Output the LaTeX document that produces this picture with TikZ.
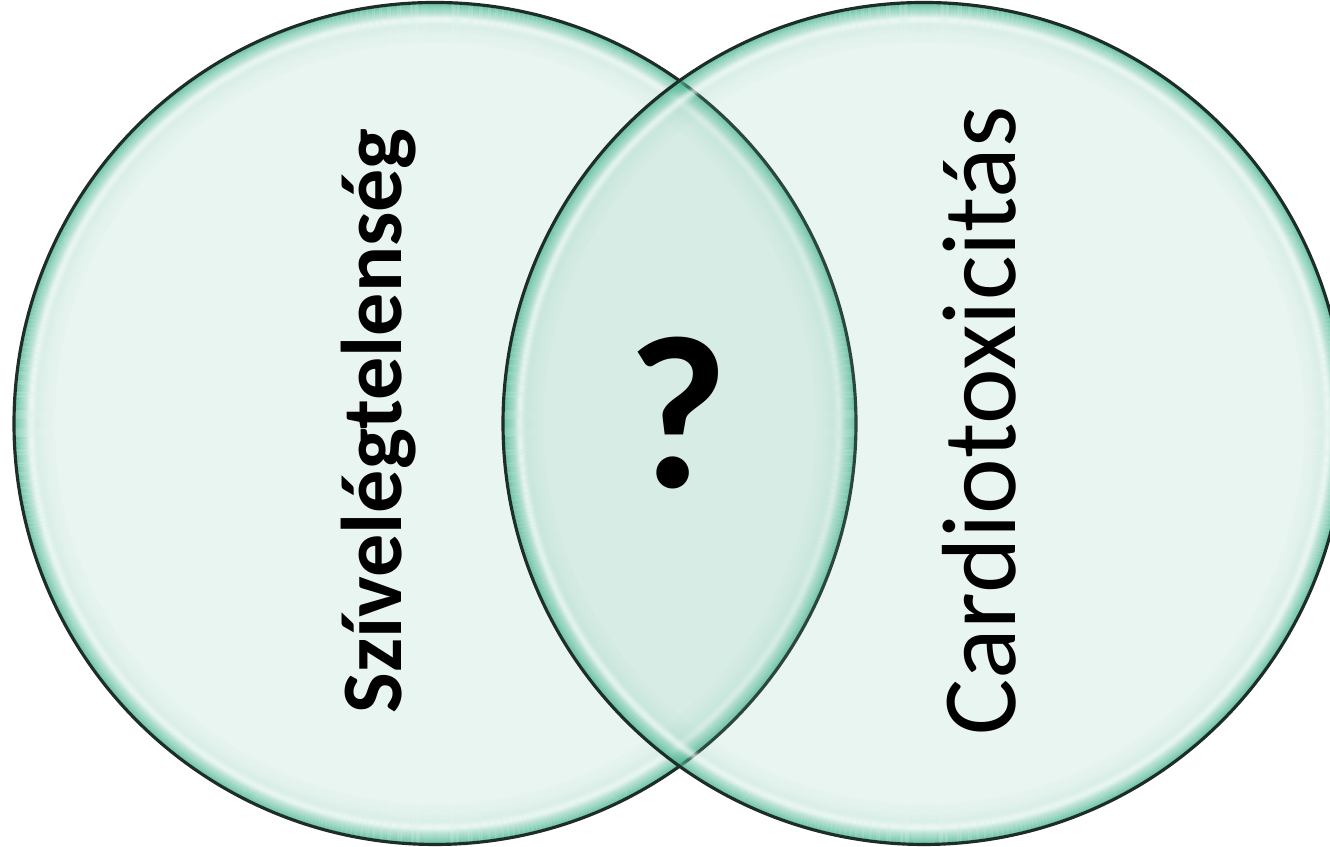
\documentclass[tikz,border=0pt]{standalone}
\usepackage{fontspec}
\newfontfamily\labelfont{Carlito}

\definecolor{setfill}{RGB}{123,194,167}
\definecolor{rimteal}{RGB}{78,184,150}
\definecolor{rimline}{RGB}{30,45,40}

\begin{document}
\begin{tikzpicture}
    \tikzstyle{set fill}=[fill=setfill, fill opacity=0.17]
    \tikzstyle{set border}=[draw=rimline, line width=0.9pt]
    \tikzstyle{set label}=[rotate=90, inner sep=0pt, font=\labelfont]
    \def\setradius{4.21}

    \useasboundingbox (0,0) rectangle (13.3,8.47);

    % Centres of the two sets
    \coordinate (HF) at (4.35,4.235);
    \coordinate (CT) at (9.24,4.235);

    % Fill each set, shade its rim, then the outline
    \foreach \c in {HF,CT} {
        \fill[set fill] (\c) circle[radius=\setradius];
        \foreach \d in {1,...,40} {
            \pgfmathsetmacro\tealop{0.9*exp(-\d/10)}
            \pgfmathsetmacro\whiteop{0.6*exp(-((\d-17)/4)*((\d-17)/4))}
            \draw[rimteal, draw opacity=\tealop, line width=0.3pt]
                (\c) circle[radius=\setradius-\d*0.01];
            \draw[white, draw opacity=\whiteop, line width=0.3pt]
                (\c) circle[radius=\setradius-\d*0.01];
        }
        \draw[set border] (\c) circle[radius=\setradius];
    }

    % Labels
    \node[set label, font=\labelfont\bfseries\fontsize{24.5}{28}\selectfont]
        (hf) at (3.79,4.26) {Szívelégtelenség};
    \node[set label, font=\labelfont\fontsize{30}{36}\selectfont]
        (ct) at (9.79,4.26) {Cardiotoxicitás};
    \node[inner sep=0pt, font=\labelfont\bfseries\fontsize{62}{70}\selectfont]
        (q) at (6.78,4.34) {?};
\end{tikzpicture}
\end{document}
